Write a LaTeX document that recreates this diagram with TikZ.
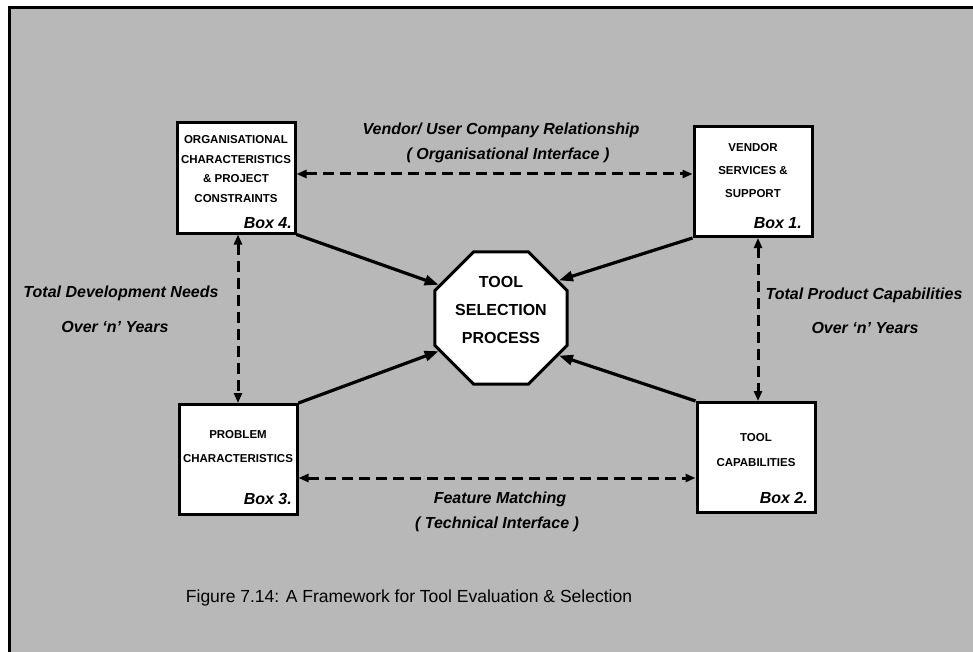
\documentclass[tikz,border=0pt]{standalone}
\usepackage{fontspec}
\setmainfont{Liberation Sans}
\usetikzlibrary{arrows.meta,shapes.geometric}
\begin{document}
\begin{tikzpicture}[x=1pt,y=-1pt,
  panel/.style={draw,fill=white,line width=3pt,minimum width=118pt,minimum height=110pt,inner sep=0pt},
  boxtext/.style={align=center,inner sep=0pt,font=\fontsize{11.5}{19.5}\selectfont\bfseries},
  boxnum/.style={anchor=base east,inner sep=0pt,font=\fontsize{16}{16}\selectfont\bfseries\itshape},
  flow/.style={line width=3.2pt,-{Triangle[length=14pt,width=10pt]}},
  link/.style={line width=3pt,dash pattern=on 11pt off 6pt,
    {Triangle[length=10pt,width=8pt]}-{Triangle[length=10pt,width=8pt]}},
  note/.style={inner sep=0pt,font=\fontsize{16}{16}\selectfont\bfseries\itshape}]
\useasboundingbox (0,0) rectangle (973,652);
% shaded panel with its frame
\fill[black!28] (9,8) rectangle (973,652);
\draw[line width=3pt] (9,652) -- (9,8) -- (973,8);

% the four boxes
\node[panel] (b4) at (236,178) {};
\node[panel] (b1) at (753,181.5) {};
\node[panel] (b3) at (238,459.5) {};
\node[panel] (b2) at (756,457.5) {};

\node[boxtext] (b4t) at (236,169) {ORGANISATIONAL\\CHARACTERISTICS\\\& PROJECT\\CONSTRAINTS};
\node[boxtext,font=\fontsize{11.5}{23}\selectfont\bfseries] (b1t) at (753,171) {VENDOR\\SERVICES \&\\SUPPORT};
\node[boxtext,font=\fontsize{11.5}{24}\selectfont\bfseries] (b3t) at (238,447) {PROBLEM\\CHARACTERISTICS};
\node[boxtext,font=\fontsize{11.5}{25}\selectfont\bfseries] (b2t) at (756,450) {TOOL\\CAPABILITIES};

\node[boxnum] (b4n) at (292,229) {Box 4.};
\node[boxnum] (b1n) at (802,229) {Box 1.};
\node[boxnum] (b3n) at (292,504) {Box 3.};
\node[boxnum] (b2n) at (808,503) {Box 2.};

% central process
\node[regular polygon,regular polygon sides=8,draw,fill=white,line width=3pt,
      minimum size=143pt,inner sep=0pt] (tsp) at (501,318) {};
\node[align=center,inner sep=0pt,font=\fontsize{16}{28}\selectfont\bfseries] (tspt) at (501,310)
  {TOOL\\SELECTION\\PROCESS};

% inputs to the process
\draw[flow] (b4.south east) -- (tsp.152);
\draw[flow] (b1.south west) -- (tsp.33);
\draw[flow] (b3.north east) -- (tsp.208);
\draw[flow] (b2.north west) -- (tsp.-33);

% interfaces between boxes
\draw[link] ([yshift=4pt]b4.east) -- ([yshift=4pt]b4.east -| b1.west);
\draw[link] ([yshift=-18.5pt]b3.east) -- ([yshift=-18.5pt]b3.east -| b2.west);
\draw[link] ([xshift=2pt]b4.south) -- ([xshift=2pt]b4.south |- b3.north);
\draw[link] ([xshift=5pt]b1.south) -- ([xshift=5pt]b1.south |- b2.north);

% interface labels
\node[note] (vu) at (501,130) {Vendor/ User Company Relationship};
\node[note] (oi) at (508,155) {( Organisational Interface )};
\node[note] (fm) at (500,499) {Feature Matching};
\node[note] (ti) at (497,524) {( Technical Interface )};
\node[note] (td) at (121,293) {Total Development Needs};
\node[note] (ol) at (115,327) {Over `n' Years};
\node[note] (tp) at (864,295) {Total Product Capabilities};
\node[note] (or) at (865,328) {Over `n' Years};

% caption
\node[inner sep=0pt,font=\fontsize{17.5}{18}\selectfont] (cap) at (409,598)
  {Figure 7.14: A Framework for Tool Evaluation \& Selection};
\end{tikzpicture}
\end{document}
